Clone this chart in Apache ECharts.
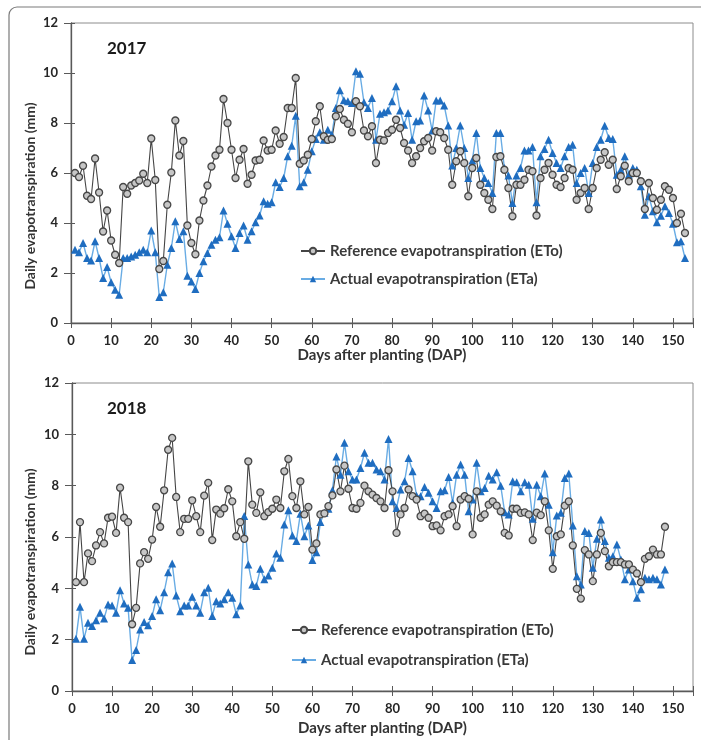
<!DOCTYPE html>
<html>
<head>
<meta charset="utf-8">
<script src="https://cdn.jsdelivr.net/npm/echarts@6/dist/echarts.min.js"></script>
<style>
html, body { margin: 0; padding: 0; background: #fff; }
#main { width: 701px; height: 740px; }
</style>
</head>
<body>
<div id="main"></div>
<script>
// daily values, day 1 onwards
var eto2017 = [
  6.0, 5.84, 6.29, 5.09, 4.96, 6.58, 5.22, 3.66, 4.5, 3.3,
  2.73, 2.4, 5.44, 5.17, 5.5, 5.6, 5.7, 5.97, 5.6, 7.38,
  5.72, 2.16, 2.48, 4.73, 6.02, 8.1, 6.7, 7.28, 3.9, 3.2,
  2.75, 4.1, 4.9, 5.5, 6.26, 6.7, 6.93, 8.96, 8.0, 6.93,
  5.8, 6.53, 6.96, 5.57, 5.93, 6.5, 6.53, 7.3, 6.9, 6.93,
  7.7, 7.17, 7.44, 8.6, 8.6, 9.8, 6.37, 6.5, 6.73, 7.36,
  8.07, 8.67, 7.47, 7.33, 7.36, 8.27, 8.56, 8.13, 7.97, 7.63,
  8.87, 8.67, 7.7, 7.47, 7.87, 6.4, 7.33, 7.3, 7.6, 7.73,
  8.13, 7.8, 7.2, 6.9, 6.4, 6.67, 7.0, 7.27, 7.4, 6.9,
  7.67, 7.63, 7.4, 6.93, 5.53, 6.47, 6.87, 6.4, 5.07, 6.2,
  6.6, 5.53, 5.2, 4.93, 4.56, 6.64, 6.67, 6.13, 5.4, 4.27,
  5.53, 5.53, 5.73, 6.13, 6.07, 4.3, 5.8, 6.13, 6.4, 5.93,
  5.53, 5.44, 5.8, 6.2, 6.13, 4.93, 5.2, 5.4, 4.56, 5.4,
  6.2, 6.53, 6.83, 6.33, 6.53, 5.36, 5.87, 6.29, 5.67, 6.0,
  6.0, 5.67, 4.56, 5.6, 5.0, 4.53, 4.93, 5.47, 5.33, 5.0,
  4.0, 4.37, 3.6
];
var eta2017 = [
  2.93, 2.83, 3.2, 2.6, 2.5, 3.27, 2.6, 1.8, 2.24, 1.63,
  1.33, 1.13, 2.6, 2.6, 2.66, 2.73, 2.83, 2.93, 2.83, 3.7,
  2.83, 1.04, 1.23, 2.33, 3.0, 4.07, 3.36, 3.67, 1.89, 1.66,
  1.36, 2.0, 2.47, 2.8, 3.13, 3.33, 3.43, 4.5, 3.97, 3.47,
  3.0, 3.6, 3.9, 3.33, 3.67, 4.03, 4.3, 4.87, 4.77, 4.83,
  5.63, 5.44, 5.8, 6.67, 7.09, 8.29, 5.47, 5.63, 6.13, 6.87,
  7.36, 7.63, 7.33, 7.73, 7.53, 8.6, 9.31, 8.91, 8.87, 8.8,
  10.07, 9.97, 8.83, 8.6, 9.0, 7.33, 8.37, 8.43, 8.5, 8.87,
  9.47, 8.5, 7.93, 8.4, 7.33, 8.07, 8.1, 9.1, 8.5, 7.7,
  8.9, 8.9, 8.7, 7.9, 6.3, 7.0, 7.9, 7.0, 5.8, 6.5,
  7.6, 6.2, 5.8, 5.6, 5.2, 7.6, 7.6, 6.2, 5.9, 4.8,
  5.9, 6.2, 6.9, 6.9, 7.04, 4.83, 6.67, 6.96, 7.33, 6.8,
  6.4, 6.2, 6.67, 7.04, 7.13, 5.6, 6.0, 6.2, 5.2, 6.4,
  7.04, 7.33, 7.89, 7.4, 7.36, 5.93, 6.13, 6.67, 5.93, 6.2,
  6.13, 5.47, 4.33, 5.07, 4.47, 4.03, 4.29, 4.67, 4.4, 3.97,
  3.23, 3.27, 2.6
];
var eto2018 = [
  4.24, 6.58, 4.24, 5.36, 5.06, 5.67, 6.19, 5.75, 6.75, 6.79,
  6.16, 7.92, 6.75, 6.58, 2.6, 3.24, 4.97, 5.41, 5.15, 5.9,
  7.17, 6.4, 7.82, 9.4, 9.86, 7.56, 6.19, 6.71, 6.71, 7.43,
  6.81, 6.19, 7.61, 8.11, 5.88, 7.07, 6.91, 7.12, 7.86, 7.39,
  6.03, 6.58, 5.93, 8.95, 7.26, 6.94, 7.74, 6.81, 6.97, 7.1,
  7.46, 7.13, 8.56, 9.04, 7.59, 7.13, 8.17, 6.88, 7.17, 5.51,
  5.75, 6.88, 6.92, 7.2, 7.62, 8.63, 7.78, 8.78, 7.88, 7.13,
  7.1, 7.33, 8.0, 7.78, 7.65, 7.52, 7.39, 7.13, 8.6, 7.78,
  6.16, 6.88, 7.13, 7.85, 7.59, 7.46, 6.81, 6.91, 6.75, 6.42,
  6.45, 6.26, 6.81, 6.88, 7.2, 6.42, 7.46, 7.59, 7.49, 6.1,
  7.78, 6.75, 6.88, 7.26, 7.39, 7.22, 7.0, 6.16, 6.06, 7.1,
  7.1, 6.94, 6.96, 6.88, 5.88, 6.95, 6.85, 7.39, 6.26, 4.76,
  6.03, 6.1, 7.22, 7.39, 5.67, 3.98, 3.6, 5.49, 5.32, 4.28,
  5.32, 6.16, 5.45, 4.86, 5.02, 5.02, 5.02, 4.93, 4.93, 4.73,
  4.58, 4.24, 5.15, 5.25, 5.51, 5.32, 5.32, 6.4
];
var eta2018 = [
  2.04, 3.28, 2.04, 2.66, 2.53, 2.76, 3.05, 2.82, 3.37, 3.33,
  3.05, 3.93, 3.41, 3.24, 1.21, 1.6, 2.4, 2.69, 2.56, 2.92,
  3.57, 3.15, 3.85, 4.63, 4.97, 3.72, 3.11, 3.33, 3.33, 3.67,
  3.33, 3.05, 3.85, 4.02, 2.92, 3.5, 3.41, 3.57, 3.85, 3.63,
  2.99, 3.33, 6.82, 4.93, 4.15, 4.09, 4.76, 4.35, 4.5, 4.8,
  5.36, 5.19, 6.49, 7.04, 6.06, 5.84, 6.91, 6.03, 6.45, 5.1,
  5.41, 6.58, 6.94, 7.1, 7.82, 9.14, 8.43, 9.67, 8.56, 8.24,
  8.24, 8.69, 9.28, 8.89, 8.89, 8.63, 8.56, 8.24, 9.82, 7.39,
  7.13, 7.85, 8.17, 9.08, 8.56, 7.61, 7.59, 7.95, 7.72, 7.39,
  7.13, 7.78, 7.82, 8.34, 7.33, 8.43, 8.82, 8.43, 7.0, 7.46,
  8.89, 7.78, 7.91, 8.39, 8.24, 8.52, 8.0, 6.96, 6.88, 8.17,
  8.13, 7.78, 8.13, 8.04, 6.71, 8.04, 7.59, 8.47, 7.26, 5.41,
  6.84, 6.94, 8.3, 8.47, 6.45, 4.47, 4.15, 6.23, 6.16, 4.8,
  5.93, 6.68, 5.84, 5.19, 5.25, 5.71, 5.12, 4.35, 4.73, 4.28,
  3.63, 3.96, 4.41, 4.35, 4.41, 4.35, 4.15, 4.73
];
var etoName = 'Reference evapotranspiration (ETo)';
var etaName = 'Actual evapotranspiration (ETa)';
var yearLabels = ['2017', '2018'];

var FONT = 'Lato, "Open Sans", sans-serif';
var AXIS = '#595959';

function pairs(arr) {
  return arr.map(function (v, i) { return [i + 1, v]; });
}

function xMain(g, gap) {
  return {
    type: 'value', gridIndex: g, position: 'bottom', min: 0, max: 155, interval: 10,
    axisLine: { show: true, onZero: false, lineStyle: { color: AXIS, width: 1.3 } },
    axisTick: { show: true, length: 5, lineStyle: { color: AXIS } },
    axisLabel: { margin: 11, fontFamily: FONT, fontWeight: 'bold', fontSize: 13, color: '#262626',
      formatter: function (v) { return v % 10 === 0 ? v : ''; } },
    splitLine: { show: false },
    name: 'Days after planting (DAP)', nameLocation: 'middle', nameGap: gap,
    nameTextStyle: { fontFamily: FONT, fontWeight: 'bold', fontSize: 15, color: '#333' }
  };
}
function xInner(g) {
  return {
    type: 'value', gridIndex: g, position: 'bottom', min: 0, max: 155, interval: 10,
    axisLine: { show: false }, axisLabel: { show: false }, splitLine: { show: false },
    axisTick: { show: true, inside: true, length: 5, lineStyle: { color: AXIS } }
  };
}
function yMain(g) {
  return {
    type: 'value', gridIndex: g, position: 'left', min: 0, max: 12, interval: 2,
    axisLine: { show: true, onZero: false, lineStyle: { color: AXIS, width: 1.3 } },
    axisTick: { show: true, length: 7, lineStyle: { color: AXIS } },
    axisLabel: { margin: 13, fontFamily: FONT, fontWeight: 'bold', fontSize: 13, color: '#262626' },
    splitLine: { show: false }
  };
}
function yInner(g) {
  return {
    type: 'value', gridIndex: g, position: 'left', min: 0, max: 12, interval: 2,
    axisLine: { show: false }, axisLabel: { show: false }, splitLine: { show: false },
    axisTick: { show: true, inside: true, length: 4, lineStyle: { color: AXIS } }
  };
}

function etaSeries(data, g) {
  return {
    name: etaName, type: 'line', xAxisIndex: g, yAxisIndex: g, data: pairs(data),
    symbol: 'triangle', symbolSize: 8, showAllSymbol: true,
    itemStyle: { color: '#1f6dc0' },
    lineStyle: { color: '#69ace4', width: 1.4 },
    emphasis: { disabled: true }
  };
}
function etoSeries(data, g) {
  return {
    name: etoName, type: 'line', xAxisIndex: g, yAxisIndex: g, data: pairs(data),
    symbol: 'circle', symbolSize: 7, showAllSymbol: true,
    itemStyle: { color: '#c6c6c6', borderColor: '#474747', borderWidth: 1.3 },
    lineStyle: { color: '#444', width: 1.1 },
    emphasis: { disabled: true }
  };
}

function legend(left, top, gap) {
  return {
    data: [etoName, etaName], orient: 'vertical', left: left, top: top,
    itemWidth: 24, itemHeight: 8, itemGap: gap, selectedMode: false,
    textStyle: { fontFamily: FONT, fontWeight: 'bold', fontSize: 15, color: '#3a3a3a', lineHeight: 16 }
  };
}

function sideText(x, y, text) {
  return {
    type: 'text', x: x, y: y, rotation: Math.PI / 2,
    style: { text: text, align: 'center', verticalAlign: 'middle',
      fontFamily: FONT, fontWeight: 'bold', fontSize: 14, fill: '#333' }
  };
}

var chart = echarts.init(document.getElementById('main'), null, { renderer: 'canvas' });
chart.setOption({
  animation: false,
  backgroundColor: '#fff',
  grid: [
    { left: 71, top: 23, width: 622, height: 300, show: true, borderColor: '#8c8c8c', borderWidth: 1 },
    { left: 72, top: 383, width: 621, height: 308, show: true, borderColor: '#8c8c8c', borderWidth: 1 }
  ],
  xAxis: [xMain(0, 24), xMain(1, 30), xInner(0), xInner(1)],
  yAxis: [yMain(0), yMain(1), yInner(0), yInner(1)],
  legend: [legend(295, 238, 12), legend(286, 617, 14)],
  series: [
    etaSeries(eta2017, 0), etoSeries(eto2017, 0),
    etaSeries(eta2018, 1), etoSeries(eto2018, 1)
  ],
  graphic: [
    { type: 'rect', shape: { x: 9, y: 7, width: 760, height: 780, r: 8 },
      style: { fill: 'none', stroke: '#7a7a7a', lineWidth: 1.2 }, silent: true },
    { type: 'text', x: 107, y: 40, style: { text: yearLabels[0], fontFamily: FONT, fontWeight: 'bold', fontSize: 17, fill: '#1a1a1a' } },
    { type: 'text', x: 107, y: 400, style: { text: yearLabels[1], fontFamily: FONT, fontWeight: 'bold', fontSize: 17, fill: '#1a1a1a' } },
    sideText(30, 196, 'Daily evapotranspiration (mm)'),
    sideText(30, 562, 'Daily evapotranspiration (mm)')
  ]
});
</script>
</body>
</html>
